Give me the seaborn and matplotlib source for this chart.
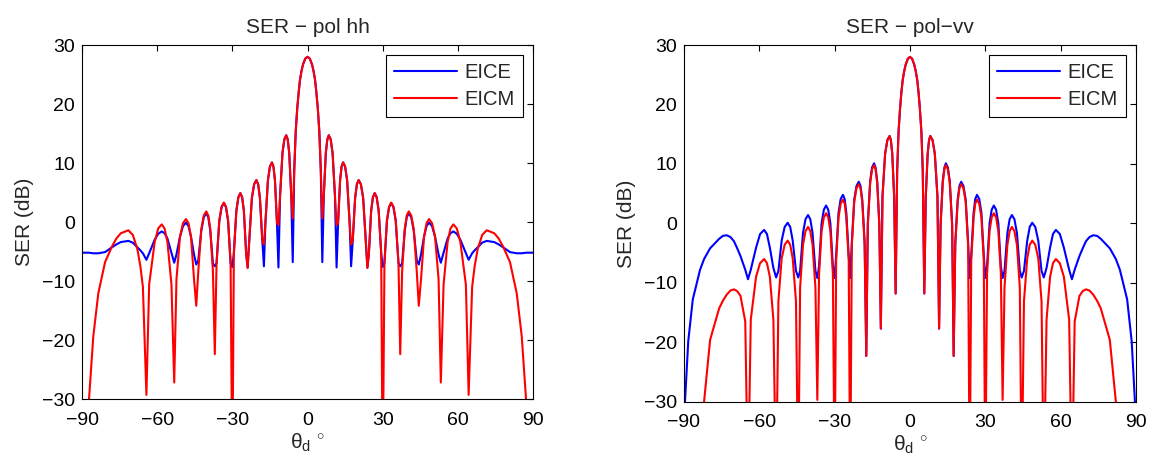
import matplotlib
matplotlib.use("Agg")
import matplotlib.pyplot as plt
import seaborn as sns
import pandas as pd

# ---------------- data ----------------
# panel 1: pol hh
hh_theta = [
    -90.0, -88.5, -87.2, -85.5, -83.5, -80.8, -78.1, -76.3, -74.5, -71.5, -69.7, -67.9, -66.7, -65.7,
    -64.3, -63.2, -61.0, -59.6, -58.2, -57.05, -55.9, -54.3,
    -53.2, -52.3, -50.9, -49.7, -48.5, -47.5, -46.5, -45.3,
    -44.4, -43.6, -42.4, -41.4, -40.4, -39.6, -38.8, -37.75,
    -37.0, -36.3, -35.2, -34.3, -33.4, -32.55, -31.7, -30.7,
    -30.0, -29.4, -28.4, -27.6, -26.8, -26.1, -25.4, -24.5,
    -23.9, -23.25, -22.2, -21.3, -20.4, -19.7, -19.0, -18.05,
    -17.4, -16.8, -15.8, -15.0, -14.2, -13.6, -13.0, -12.2,
    -11.6, -10.95, -10.0, -9.25, -8.5, -7.9, -7.3, -6.5,
    -5.9, -5.3, -4.7, -4.1, -3.5, -3.0, -2.4, -1.8, -0.9,
    0.0, 0.9, 1.8, 2.4, 3.0, 3.5, 4.1, 4.7, 5.3, 5.9,
    6.5, 7.3, 7.9, 8.5, 9.25, 10.0, 10.95, 11.6,
    12.2, 13.0, 13.6, 14.2, 15.0, 15.8, 16.8, 17.4,
    18.05, 19.0, 19.7, 20.4, 21.3, 22.2, 23.25, 23.9,
    24.5, 25.4, 26.1, 26.8, 27.6, 28.4, 29.4, 30.0,
    30.7, 31.7, 32.55, 33.4, 34.3, 35.2, 36.3, 37.0,
    37.75, 38.8, 39.6, 40.4, 41.4, 42.4, 43.6, 44.4,
    45.3, 46.5, 47.5, 48.5, 49.7, 50.9, 52.3, 53.2,
    54.3, 55.9, 57.05, 58.2, 59.6, 61.0, 63.2, 64.3,
    65.7, 66.7, 67.9, 69.7, 71.5, 74.5, 76.3, 78.1, 80.8, 83.5, 85.5, 87.2, 88.5, 90.0,
]
hh_eice = [
    -5.2, -5.2, -5.2, -5.3, -5.3, -5.1, -4.3, -3.8, -3.4, -3.2, -3.5, -4.3, -4.8, -5.3,
    -6.4, -5.3, -3.0, -2.0, -1.6, -1.9, -2.8, -5.2,
    -6.9, -5.5, -2.5, -0.7, -0.1, -0.7, -2.5, -5.5,
    -7.2, -6.5, -1.5, 0.8, 1.5, 0.8, -1.5, -7.0,
    -7.5, -7.0, 0.2, 2.5, 3.2, 2.5, 0.2, -7.0,
    -7.6, -5.3, 1.9, 4.2, 4.9, 4.2, 1.9, -5.3,
    -7.7, -3.1, 4.1, 6.4, 7.1, 6.4, 4.1, -3.1,
    -7.5, -0.1, 7.1, 9.4, 10.1, 9.4, 7.1, -0.1,
    -7.7, 4.5, 11.7, 14.0, 14.7, 14.0, 11.7, 4.5,
    -6.8, 8.8, 15.4, 19.3, 22.1, 24.1, 25.6, 26.7, 27.7,
    28.0, 27.7, 26.7, 25.6, 24.1, 22.1, 19.3, 15.4, 8.8, -6.8,
    4.5, 11.7, 14.0, 14.7, 14.0, 11.7, 4.5, -7.7,
    -0.1, 7.1, 9.4, 10.1, 9.4, 7.1, -0.1, -7.5,
    -3.1, 4.1, 6.4, 7.1, 6.4, 4.1, -3.1, -7.7,
    -5.3, 1.9, 4.2, 4.9, 4.2, 1.9, -5.3, -7.6,
    -7.0, 0.2, 2.5, 3.2, 2.5, 0.2, -7.0, -7.5,
    -7.0, -1.5, 0.8, 1.5, 0.8, -1.5, -6.5, -7.2,
    -5.5, -2.5, -0.7, -0.1, -0.7, -2.5, -5.5, -6.9,
    -5.2, -2.8, -1.9, -1.6, -2.0, -3.0, -5.3, -6.4,
    -5.3, -4.8, -4.3, -3.5, -3.2, -3.4, -3.8, -4.3, -5.1, -5.3, -5.3, -5.2, -5.2, -5.2,
]
hh_eicm = [
    -50.0, -40.0, -30.0, -19.4, -12.1, -6.8, -4.2, -2.8, -1.9, -1.4, -2.2, -4.6, -7.5, -11.0,
    -29.3, -10.6, -3.4, -1.1, -0.4, -1.1, -3.4, -10.6,
    -27.2, -9.7, -2.5, -0.2, 0.5, -0.2, -2.5, -9.7,
    -14.2, -8.4, -1.2, 1.1, 1.8, 1.1, -1.2, -8.4,
    -22.4, -6.9, 0.3, 2.6, 3.3, 2.6, 0.3, -6.9,
    -45.0, -5.3, 1.9, 4.2, 4.9, 4.2, 1.9, -5.3,
    -7.8, -3.1, 4.1, 6.4, 7.1, 6.4, 4.1, -3.1,
    -3.8, -0.1, 7.1, 9.4, 10.1, 9.4, 7.1, -0.1,
    -0.5, 4.5, 11.7, 14.0, 14.7, 14.0, 11.7, 4.5,
    0.6, 8.8, 15.4, 19.3, 22.1, 24.1, 25.6, 26.7, 27.7,
    28.0, 27.7, 26.7, 25.6, 24.1, 22.1, 19.3, 15.4, 8.8, 0.6,
    4.5, 11.7, 14.0, 14.7, 14.0, 11.7, 4.5, -0.5,
    -0.1, 7.1, 9.4, 10.1, 9.4, 7.1, -0.1, -3.8,
    -3.1, 4.1, 6.4, 7.1, 6.4, 4.1, -3.1, -7.8,
    -5.3, 1.9, 4.2, 4.9, 4.2, 1.9, -5.3, -45.0,
    -6.9, 0.3, 2.6, 3.3, 2.6, 0.3, -6.9, -22.4,
    -8.4, -1.2, 1.1, 1.8, 1.1, -1.2, -8.4, -14.2,
    -9.7, -2.5, -0.2, 0.5, -0.2, -2.5, -9.7, -27.2,
    -10.6, -3.4, -1.1, -0.4, -1.1, -3.4, -10.6, -29.3,
    -11.0, -7.5, -4.6, -2.2, -1.4, -1.9, -2.8, -4.2, -6.8, -12.1, -19.4, -30.0, -40.0, -50.0,
]

# panel 2: pol vv
vv_theta = [
    -90.0, -89.6, -88.3, -86.5, -83.6, -82.0, -79.6, -76.0, -74.5, -73.0, -71.5, -70.1, -68.8, -67.5, -65.6,
    -64.5, -63.4, -61.3, -59.7, -58.1, -56.95, -55.8, -54.4,
    -53.3, -52.4, -51.1, -49.9, -48.7, -47.7, -46.7, -45.4,
    -44.5, -43.75, -42.6, -41.6, -40.6, -39.7, -38.8, -37.65,
    -36.9, -36.2, -35.2, -34.3, -33.4, -32.55, -31.7, -30.7,
    -30.0, -29.4, -28.45, -27.6, -26.7, -26.0, -25.35, -24.4,
    -23.8, -23.15, -22.2, -21.3, -20.4, -19.7, -19.0, -18.05,
    -17.4, -16.8, -15.85, -15.1, -14.3, -13.7, -13.05, -12.2,
    -11.6, -10.95, -9.9, -9.0, -8.1, -7.6, -7.05, -6.3,
    -5.7, -5.1, -4.55, -3.95, -3.4, -2.9, -2.3, -1.7, -0.85,
    0.0, 0.85, 1.7, 2.3, 2.9, 3.4, 3.95, 4.55, 5.1, 5.7,
    6.3, 7.05, 7.6, 8.1, 9.0, 9.9, 10.95, 11.6,
    12.2, 13.05, 13.7, 14.3, 15.1, 15.85, 16.8, 17.4,
    18.05, 19.0, 19.7, 20.4, 21.3, 22.2, 23.15, 23.8,
    24.4, 25.35, 26.0, 26.7, 27.6, 28.45, 29.4, 30.0,
    30.7, 31.7, 32.55, 33.4, 34.3, 35.2, 36.2, 36.9,
    37.65, 38.8, 39.7, 40.6, 41.6, 42.6, 43.75, 44.5,
    45.4, 46.7, 47.7, 48.7, 49.9, 51.1, 52.4, 53.3,
    54.4, 55.8, 56.95, 58.1, 59.7, 61.3, 63.4, 64.5,
    65.6, 67.5, 68.8, 70.1, 71.5, 73.0, 74.5, 76.0, 79.6, 82.0, 83.6, 86.5, 88.3, 89.6, 90.0,
]
vv_eice = [
    -40.0, -30.0, -19.8, -12.8, -7.8, -6.0, -4.2, -2.6, -2.1, -2.0, -2.3, -3.0, -4.2, -5.5, -7.8,
    -9.4, -7.8, -4.1, -1.8, -1.1, -1.8, -4.1, -7.5,
    -9.1, -8.0, -2.9, -0.6, 0.1, -0.6, -2.9, -8.0,
    -9.1, -8.0, -1.6, 0.7, 1.4, 0.7, -1.6, -8.0,
    -9.2, -7.2, 0.0, 2.3, 3.0, 2.3, 0.0, -7.2,
    -9.2, -5.4, 1.8, 4.1, 4.8, 4.1, 1.8, -5.4,
    -9.2, -3.2, 4.0, 6.3, 7.0, 6.3, 4.0, -3.2,
    -22.3, -0.1, 7.1, 9.4, 10.1, 9.4, 7.1, -0.1,
    -17.7, 4.5, 11.7, 14.0, 14.7, 14.0, 11.7, 4.5,
    -11.8, 8.8, 15.4, 19.3, 22.1, 24.1, 25.6, 26.7, 27.7,
    28.0, 27.7, 26.7, 25.6, 24.1, 22.1, 19.3, 15.4, 8.8, -11.8,
    4.5, 11.7, 14.0, 14.7, 14.0, 11.7, 4.5, -17.7,
    -0.1, 7.1, 9.4, 10.1, 9.4, 7.1, -0.1, -22.3,
    -3.2, 4.0, 6.3, 7.0, 6.3, 4.0, -3.2, -9.2,
    -5.4, 1.8, 4.1, 4.8, 4.1, 1.8, -5.4, -9.2,
    -7.2, 0.0, 2.3, 3.0, 2.3, 0.0, -7.2, -9.2,
    -8.0, -1.6, 0.7, 1.4, 0.7, -1.6, -8.0, -9.1,
    -8.0, -2.9, -0.6, 0.1, -0.6, -2.9, -8.0, -9.1,
    -7.5, -4.1, -1.8, -1.1, -1.8, -4.1, -7.8, -9.4,
    -7.8, -5.5, -4.2, -3.0, -2.3, -2.0, -2.1, -2.6, -4.2, -6.0, -7.8, -12.8, -19.8, -30.0, -40.0,
]
vv_eicm = [
    -70.0, -65.0, -60.0, -55.0, -45.0, -30.0, -19.6, -14.3, -13.0, -12.0, -11.3, -11.1, -11.4, -12.2, -16.5,
    -45.0, -16.2, -9.0, -6.7, -6.0, -6.7, -9.0, -16.2,
    -45.0, -13.1, -5.9, -3.6, -2.9, -3.6, -5.9, -13.1,
    -45.0, -10.8, -3.6, -1.3, -0.6, -1.3, -3.6, -10.8,
    -29.7, -8.5, -1.3, 1.0, 1.7, 1.0, -1.3, -8.5,
    -45.0, -6.2, 1.0, 3.3, 4.0, 3.3, 1.0, -6.2,
    -45.0, -3.6, 3.6, 5.9, 6.6, 5.9, 3.6, -3.6,
    -22.3, -0.4, 6.8, 9.1, 9.8, 9.1, 6.8, -0.4,
    -17.7, 4.5, 11.7, 14.0, 14.7, 14.0, 11.7, 4.5,
    -11.8, 8.8, 15.4, 19.3, 22.1, 24.1, 25.6, 26.7, 27.7,
    28.0, 27.7, 26.7, 25.6, 24.1, 22.1, 19.3, 15.4, 8.8, -11.8,
    4.5, 11.7, 14.0, 14.7, 14.0, 11.7, 4.5, -17.7,
    -0.4, 6.8, 9.1, 9.8, 9.1, 6.8, -0.4, -22.3,
    -3.6, 3.6, 5.9, 6.6, 5.9, 3.6, -3.6, -45.0,
    -6.2, 1.0, 3.3, 4.0, 3.3, 1.0, -6.2, -45.0,
    -8.5, -1.3, 1.0, 1.7, 1.0, -1.3, -8.5, -29.7,
    -10.8, -3.6, -1.3, -0.6, -1.3, -3.6, -10.8, -45.0,
    -13.1, -5.9, -3.6, -2.9, -3.6, -5.9, -13.1, -45.0,
    -16.2, -9.0, -6.7, -6.0, -6.7, -9.0, -16.2, -45.0,
    -16.5, -12.2, -11.4, -11.1, -11.3, -12.0, -13.0, -14.3, -19.6, -30.0, -45.0, -55.0, -60.0, -65.0, -70.0,
]

series_names = ["EICE", "EICM"]
titles = ["SER \u2212 pol hh", "SER \u2212 pol\u2212vv"]
x_ticks = [-90, -60, -30, 0, 30, 60, 90]
y_ticks = [-30, -20, -10, 0, 10, 20, 30]
ylabel_text = "SER (dB)"
xlabel_text = r"$\theta_d\ ^{\circ}$"

assert len(hh_theta) == len(hh_eice) == len(hh_eicm)
assert len(vv_theta) == len(vv_eice) == len(vv_eicm)

# ---------------- styling ----------------
sns.set_theme(style="white")
plt.rcParams["font.family"] = ["Liberation Sans", "DejaVu Sans"]
plt.rcParams["mathtext.fontset"] = "custom"
plt.rcParams["mathtext.rm"] = "Liberation Sans"
plt.rcParams["mathtext.it"] = "Liberation Sans"
plt.rcParams["axes.unicode_minus"] = True


def long_frame(theta, a, b):
    return pd.DataFrame({
        "theta": list(theta) + list(theta),
        "SER": list(a) + list(b),
        "method": [series_names[0]] * len(theta) + [series_names[1]] * len(theta),
    })


fig = plt.figure(figsize=(11.55, 4.65), dpi=100)
ax1 = fig.add_axes([0.0710, 0.1419, 0.3905, 0.7613])
ax2 = fig.add_axes([0.5922, 0.1361, 0.3913, 0.7671])

palette = {"EICE": (0, 0, 1), "EICM": (1, 0, 0)}
frames = [long_frame(hh_theta, hh_eice, hh_eicm), long_frame(vv_theta, vv_eice, vv_eicm)]

for ax, df, title in zip([ax1, ax2], frames, titles):
    sns.lineplot(data=df, x="theta", y="SER", hue="method", hue_order=series_names,
                 palette=palette, estimator=None, sort=False, linewidth=1.5, ax=ax)
    ax.set_xlim(-90, 90)
    ax.set_ylim(-30, 30)
    ax.set_xticks(x_ticks)
    ax.set_yticks(y_ticks)
    ax.tick_params(direction="in", top=True, right=True, length=4, width=0.8,
                   labelsize=14, colors="black")
    ax.tick_params(axis="x", pad=9)
    ax.tick_params(axis="y", pad=5)
    for s in ax.spines.values():
        s.set_color("black")
        s.set_linewidth(0.8)
    ax.set_title(title, fontsize=15, pad=9)
    ax.set_xlabel(xlabel_text, fontsize=15, labelpad=2)
    ax.set_ylabel(ylabel_text, fontsize=15, labelpad=6)
    leg = ax.legend(loc="upper right", bbox_to_anchor=(0.978, 0.972), fontsize=14.5,
                    frameon=True, fancybox=False, edgecolor="black", framealpha=1,
                    handlelength=3.1, handletextpad=0.4, borderpad=0.4,
                    labelspacing=0.4, borderaxespad=0)
    leg.get_frame().set_linewidth(0.8)

fig.savefig("out.png", dpi=100)
